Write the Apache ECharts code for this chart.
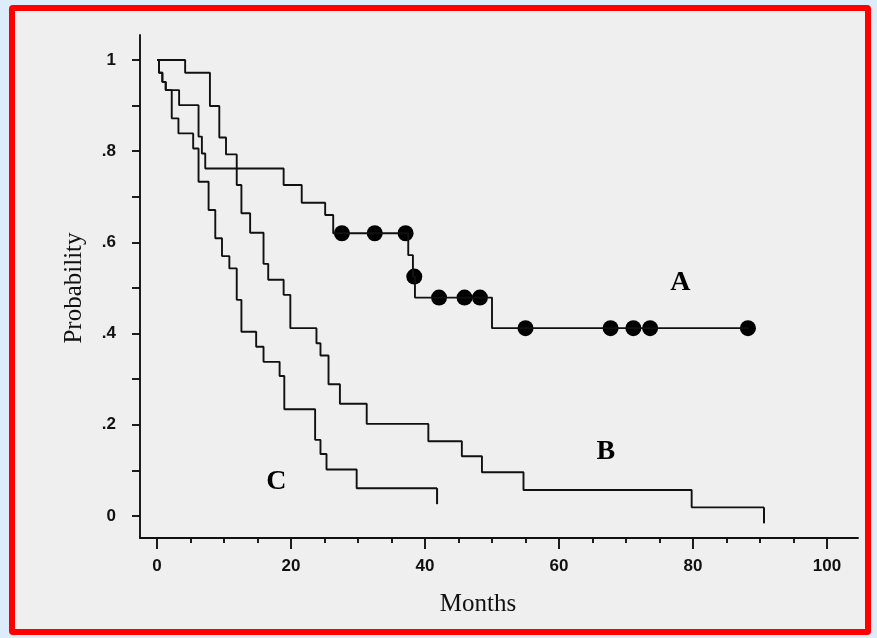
<!DOCTYPE html>
<html><head><meta charset="utf-8">
<script src="https://cdn.jsdelivr.net/npm/echarts@6.0.0/dist/echarts.min.js"></script>
<style>
html,body{margin:0;padding:0;width:877px;height:638px;background:#dcecfb;overflow:hidden}
#frame{position:absolute;left:9px;top:5px;width:850px;height:618px;border:6px solid #ff0000;border-radius:4px;background:#efefef}
#chart{position:absolute;left:0;top:0;width:877px;height:638px}
</style></head>
<body><div id="frame"></div><div id="chart"></div>
<script>
// Curve A (step times in months, survival after each step)
const monthsA = [0, 0.3, 0.8, 1.3, 3.3, 6.2, 6.7, 7.2, 18.9, 21.6, 25.1, 26.3, 37.5, 38.2, 38.5, 50.0, 88.2];
const probA   = [1, 0.972, 0.952, 0.934, 0.901, 0.832, 0.795, 0.762, 0.726, 0.687, 0.660, 0.620, 0.572, 0.525, 0.479, 0.412, 0.412];
// Censored observations on curve A
const censorMonthsA = [27.6, 32.5, 37.1, 38.4, 42.1, 45.9, 48.2, 55.0, 67.7, 71.1, 73.6, 88.2];
const censorProbA   = [0.620, 0.620, 0.620, 0.525, 0.479, 0.479, 0.479, 0.412, 0.412, 0.412, 0.412, 0.412];
// Curve B
const monthsB = [0, 4.2, 7.9, 9.3, 10.3, 11.9, 12.6, 13.9, 15.9, 16.6, 18.9, 19.9, 23.8, 24.4, 25.6, 27.3, 31.3, 40.5, 45.5, 48.5, 54.7, 79.8, 90.6];
const probB   = [1, 0.972, 0.899, 0.830, 0.793, 0.726, 0.664, 0.621, 0.553, 0.518, 0.485, 0.412, 0.379, 0.352, 0.289, 0.246, 0.202, 0.164, 0.131, 0.096, 0.057, 0.019, 0.019];
// Curve C
const monthsC = [0, 0.3, 0.8, 1.3, 2.2, 3.2, 5.4, 6.2, 7.7, 8.7, 9.7, 10.8, 11.9, 12.6, 14.8, 15.9, 18.3, 19.0, 23.6, 24.4, 25.3, 29.8, 41.8];
const probC   = [1, 0.972, 0.952, 0.934, 0.872, 0.839, 0.806, 0.733, 0.671, 0.609, 0.570, 0.543, 0.474, 0.404, 0.371, 0.338, 0.307, 0.234, 0.167, 0.136, 0.102, 0.061, 0.061];
// Last censored follow-up on B and C
const endMonths = [90.6, 41.8];
const endProbs  = [0.019, 0.061];
// Curve labels
const curveNames  = ['A', 'B', 'C'];
const curveMonths = [78.1, 67.0, 17.8];
const curveProbs  = [0.511, 0.140, 0.075];
// Tick labels
const xTicks = [0, 20, 40, 60, 80, 100];
const yTickLabels = {0: '0', 0.2: '.2', 0.4: '.4', 0.6: '.6', 0.8: '.8', 1: '1'};

const pair = (xs, ys) => xs.map((x, i) => [x, ys[i]]);
const ink = '#111';
const lineStyle = {color: ink, width: 1.9};

const chart = echarts.init(document.getElementById('chart'), null, {renderer: 'canvas'});
chart.setOption({
  animation: false,
  backgroundColor: 'transparent',
  grid: [
    {left: 140, right: 19, top: 35, bottom: 100},
    {left: 157, right: 50, top: 60, bottom: 122}
  ],
  xAxis: [
    {gridIndex: 0, type: 'value', min: -2.5, max: 104.6,
     axisLine: {show: true, onZero: false, lineStyle: {color: ink, width: 1.9}},
     axisTick: {show: false}, axisLabel: {show: false}, splitLine: {show: false}},
    {gridIndex: 1, type: 'value', min: 0, max: 100, interval: 20, offset: 22,
     axisLine: {show: false, onZero: false},
     axisTick: {show: true, length: 11, lineStyle: {color: ink, width: 1.9}},
     minorTick: {show: true, splitNumber: 4, length: 5, lineStyle: {color: ink, width: 1.9}},
     axisLabel: {margin: 20, color: '#111', fontFamily: 'Liberation Sans, Arial, sans-serif', fontWeight: 'bold', fontSize: 17,
                 formatter: v => xTicks.includes(v) ? String(v) : ''},
     splitLine: {show: false},
     name: 'Months', nameLocation: 'middle', nameGap: 54,
     nameTextStyle: {fontFamily: 'Liberation Serif, Times New Roman, serif', fontSize: 25, color: '#111', padding: [0, 28, 0, 0]}}
  ],
  yAxis: [
    {gridIndex: 0, type: 'value', min: -0.048, max: 1.055,
     axisLine: {show: true, onZero: false, lineStyle: {color: ink, width: 1.9}},
     axisTick: {show: false}, axisLabel: {show: false}, splitLine: {show: false}},
    {gridIndex: 1, type: 'value', min: 0, max: 1, interval: 0.2, offset: 17,
     axisLine: {show: false, onZero: false},
     axisTick: {show: true, length: 8, lineStyle: {color: ink, width: 1.9}},
     minorTick: {show: true, splitNumber: 2, length: 8, lineStyle: {color: ink, width: 1.9}},
     axisLabel: {margin: 24, color: '#111', fontFamily: 'Liberation Sans, Arial, sans-serif', fontWeight: 'bold', fontSize: 17,
                 formatter: v => { const k = Math.round(v * 10) / 10; return yTickLabels[k] !== undefined ? yTickLabels[k] : ''; }},
     splitLine: {show: false},
     name: 'Probability', nameLocation: 'middle', nameGap: 53,
     nameTextStyle: {fontFamily: 'Liberation Serif, Times New Roman, serif', fontSize: 25, color: '#111'}}
  ],
  series: [
    {type: 'line', xAxisIndex: 1, yAxisIndex: 1, step: 'end', data: pair(monthsA, probA), showSymbol: false, lineStyle, clip: false},
    {type: 'line', xAxisIndex: 1, yAxisIndex: 1, step: 'end', data: pair(monthsB, probB), showSymbol: false, lineStyle, clip: false},
    {type: 'line', xAxisIndex: 1, yAxisIndex: 1, step: 'end', data: pair(monthsC, probC), showSymbol: false, lineStyle, clip: false},
    {type: 'scatter', xAxisIndex: 1, yAxisIndex: 1, data: pair(censorMonthsA, censorProbA), symbol: 'circle', symbolSize: 16,
     itemStyle: {color: '#000', opacity: 1}, emphasis: {disabled: true}, clip: false},
    {type: 'scatter', xAxisIndex: 1, yAxisIndex: 1, data: pair(endMonths, endProbs), symbol: 'rect', symbolSize: [2, 16], symbolOffset: [0, 8],
     itemStyle: {color: ink, opacity: 1}, clip: false},
    {type: 'scatter', xAxisIndex: 1, yAxisIndex: 1, symbolSize: 1, clip: false,
     itemStyle: {opacity: 0},
     data: curveNames.map((n, i) => ({name: n, value: [curveMonths[i], curveProbs[i]]})),
     label: {show: true, position: 'inside', formatter: p => p.name, color: '#000', opacity: 1,
             fontFamily: 'Liberation Serif, Times New Roman, serif', fontWeight: 'bold', fontSize: 28}}
  ]
});
</script></body></html>
